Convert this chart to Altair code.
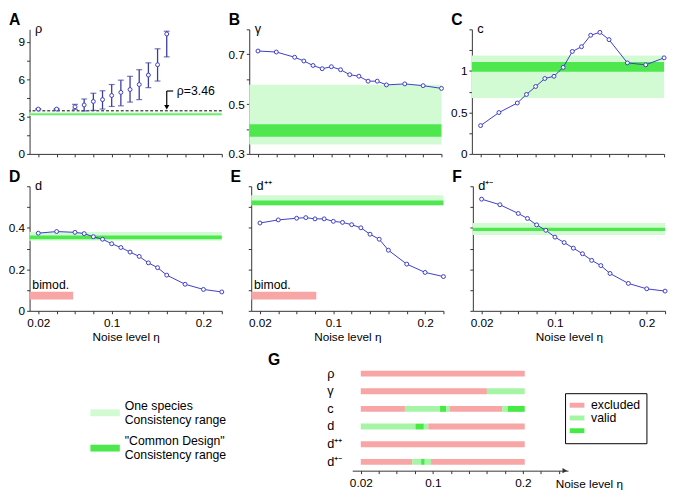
import altair as alt
import pandas as pd

# ---------------- data ----------------
eta = [0.02, 0.04, 0.06, 0.07, 0.08, 0.09, 0.10, 0.11, 0.12, 0.13, 0.14, 0.15, 0.16, 0.18, 0.20, 0.22]

rho_eta = [0.02, 0.04, 0.06, 0.07, 0.08, 0.09, 0.10, 0.11, 0.12, 0.13, 0.14, 0.15, 0.16]
rho_mean = [3.6, 3.6, 3.78, 3.93, 4.21, 4.36, 4.69, 4.94, 5.17, 5.57, 6.33, 7.16, 9.63]
rho_lo = [3.56, 3.56, 3.58, 3.45, 3.5, 3.6, 3.81, 3.86, 4.16, 4.36, 5.32, 5.85, 7.79]
rho_hi = [3.64, 3.64, 3.98, 4.41, 4.87, 5.07, 5.57, 5.92, 6.23, 6.76, 7.31, 8.44, 9.85]
rho_ref = 3.46
rho_ref_label = "ρ=3.46"
arrow_eta = [0.16, 0.167]
arrow_y = [5.05, 3.75]
arrow_text_eta = 0.171

gamma_vals = [0.713, 0.709, 0.688, 0.673, 0.655, 0.642, 0.650, 0.638, 0.618, 0.612, 0.592, 0.592, 0.577, 0.581, 0.574, 0.563]
c_vals = [0.341, 0.498, 0.613, 0.716, 0.812, 0.908, 0.935, 1.042, 1.234, 1.291, 1.429, 1.464, 1.376, 1.096, 1.073, 1.157]
d_vals = [0.374, 0.382, 0.378, 0.372, 0.357, 0.345, 0.323, 0.305, 0.283, 0.262, 0.231, 0.208, 0.172, 0.128, 0.103, 0.091]
dpp_vals = [0.423, 0.438, 0.446, 0.449, 0.443, 0.443, 0.431, 0.426, 0.415, 0.400, 0.369, 0.345, 0.292, 0.225, 0.185, 0.165]
dpm_vals = [0.538, 0.511, 0.469, 0.445, 0.414, 0.388, 0.355, 0.329, 0.302, 0.275, 0.243, 0.218, 0.180, 0.132, 0.106, 0.095]

# consistency ranges: [one-species low, high, common-design low, high]
rho_range = [3.05, 3.33, 3.15, 3.25]
gamma_range = [0.338, 0.578, 0.369, 0.419]
c_range = [0.674, 1.184, 0.989, 1.107]
d_range = [0.338, 0.380, 0.345, 0.363]
dpp_range = [0.508, 0.557, 0.508, 0.531]
dpm_range = [0.365, 0.423, 0.385, 0.400]

# bimodality ranges: [eta start, eta end, low, high]
bimod_d = [0.0105, 0.058, 0.055, 0.092]
bimod_dpp = [0.0105, 0.0814, 0.055, 0.092]
bimod_text = "bimod."

# panel G segments
g_params = ["ρ", "γ", "c", "d", "d⁺⁺", "d⁺⁻"]
g_seg_param = ["ρ", "γ", "γ", "c", "c", "c", "c", "c", "c", "c",
               "d", "d", "d", "d", "d⁺⁺", "d⁺⁻", "d⁺⁻", "d⁺⁻", "d⁺⁻", "d⁺⁻"]
g_seg_start = [0.02, 0.02, 0.16, 0.02, 0.069, 0.108, 0.115, 0.119, 0.177, 0.183,
               0.02, 0.0807, 0.09, 0.095, 0.02, 0.02, 0.077, 0.087, 0.091, 0.098]
g_seg_end = [0.202, 0.16, 0.202, 0.069, 0.108, 0.115, 0.119, 0.177, 0.183, 0.202,
             0.0807, 0.09, 0.095, 0.202, 0.202, 0.077, 0.087, 0.091, 0.098, 0.202]
g_seg_status = ["excluded", "excluded", "valid", "excluded", "valid", "valid (common)", "valid",
                "excluded", "valid", "valid (common)",
                "valid", "valid (common)", "valid", "excluded", "excluded",
                "excluded", "valid", "valid (common)", "valid", "excluded"]
g_arrow_eta = [0.2465]

xticks = [0.02, 0.04, 0.06, 0.08, 0.1, 0.12, 0.14, 0.16, 0.18, 0.2, 0.22]
g_xticks = [0.02, 0.04, 0.06, 0.08, 0.1, 0.12, 0.14, 0.16, 0.18, 0.2, 0.22, 0.24]
x_labels = {0.02: "0.02", 0.1: "0.1", 0.2: "0.2"}

# ---------------- styles ----------------
FONT = "Liberation Sans"
LINE_BLUE = "#3c3cc8"
ERR_BLUE = "#3a3aa0"
LIGHT_BAND = "#d3fbd3"
DARK_BAND = "#4ee84e"
EXCL_RED = "#f8a5a5"
VALID_LIGHT = "#a6f5a6"
VALID_DARK = "#45ea45"

W, H = 196, 127
GW, GH = 220, 108
XDOM = [0.0105, 0.22]
GXDOM = [0.0105, 0.25]

LIGHT_LBL = "One species|Consistency range"
DARK_LBL = '"Common Design"|Consistency range'
band_scale = alt.Scale(domain=[LIGHT_LBL, DARK_LBL], range=[LIGHT_BAND, DARK_BAND])


def lab_expr(m):
    s = "''"
    for v, t in reversed(list(m.items())):
        s = f"datum.value == {v} ? '{t}' : {s}"
    return s


def xenc(field, bottom):
    if bottom:
        axis = alt.Axis(values=xticks, labelExpr=lab_expr(x_labels), title="Noise level η",
                        labelFlush=False, labelOverlap=False, labelPadding=4, titlePadding=3)
    else:
        axis = alt.Axis(values=xticks, labels=False, title=None)
    return alt.X(f"{field}:Q", scale=alt.Scale(domain=XDOM, nice=False, zero=False), axis=axis)


def yenc(field, dom, ticks, labmap, title):
    kw = dict(values=ticks, title=title, titleAngle=0, titleX=5, titleY=3, titleAlign="left",
              titleBaseline="alphabetic", titleFontSize=13, labelPadding=2, labelOverlap=False,
              labelFlush=False)
    if labmap:
        kw["labelExpr"] = lab_expr(labmap)
    else:
        kw["labels"] = False
    return alt.Y(f"{field}:Q", scale=alt.Scale(domain=dom, nice=False, zero=False), axis=alt.Axis(**kw))


def ptitle(letter, dx=-21, offset=-6):
    return alt.TitleParams(letter, anchor="start", dx=dx, fontSize=16, fontWeight="bold",
                           offset=offset, frame="group", font=FONT)


def panel(letter, ylab, dom, ticks, labmap, rng, vals, bottom, extra=()):
    band_df = pd.DataFrame({"kind": [LIGHT_LBL, DARK_LBL], "lo": [rng[0], rng[2]], "hi": [rng[1], rng[3]]})
    bands = alt.Chart(band_df).mark_rect().encode(
        y=yenc("lo", dom, ticks, labmap, ylab), y2="hi",
        color=alt.Color("kind:N", scale=band_scale, legend=None))
    df = pd.DataFrame({"eta": eta, "val": vals})
    line = alt.Chart(df).mark_line(color=LINE_BLUE, strokeWidth=1).encode(
        x=xenc("eta", bottom), y=yenc("val", dom, ticks, labmap, ylab))
    pts = alt.Chart(df).mark_point(shape="circle", filled=True, fill="white", stroke=LINE_BLUE,
                                   strokeWidth=1, size=16, opacity=1).encode(
        x=xenc("eta", bottom), y=yenc("val", dom, ticks, labmap, ylab))
    layers = [bands] + list(extra) + [line, pts]
    return alt.layer(*layers).properties(width=W, height=H, title=ptitle(letter))


def bimod_layers(b, dom, ticks, labmap, ylab):
    bdf = pd.DataFrame({"x0": [b[0]], "x1": [b[1]], "lo": [b[2]], "hi": [b[3]], "t": [bimod_text],
                        "tx": [b[0] + 0.003], "ty": [b[3] + 0.012]})
    rect = alt.Chart(bdf).mark_rect(color=EXCL_RED).encode(
        x=xenc("x0", True), x2="x1", y=yenc("lo", dom, ticks, labmap, ylab), y2="hi")
    txt = alt.Chart(bdf).mark_text(align="left", baseline="alphabetic", fontSize=12.5, font=FONT,
                                   color="black").encode(
        x=xenc("tx", True), y=yenc("ty", dom, ticks, labmap, ylab), text="t:N")
    return [rect, txt]


# ----- panel A -----
A_dom, A_ticks, A_lab = [0, 10], [0, 1.5, 3, 4.5, 6, 7.5, 9], {0: "0", 3: "3", 6: "6", 9: "9"}
adf = pd.DataFrame({"eta": rho_eta, "m": rho_mean, "lo": rho_lo, "hi": rho_hi})
a_bands_df = pd.DataFrame({"kind": [LIGHT_LBL, DARK_LBL], "lo": [rho_range[0], rho_range[2]],
                           "hi": [rho_range[1], rho_range[3]]})
a_bands = alt.Chart(a_bands_df).mark_rect().encode(
    y=yenc("lo", A_dom, A_ticks, A_lab, "ρ"), y2="hi",
    color=alt.Color("kind:N", scale=band_scale, legend=None))
a_ref = alt.Chart(pd.DataFrame({"r": [rho_ref]})).mark_rule(color="black", strokeDash=[3, 2],
                                                             strokeWidth=1).encode(
    y=yenc("r", A_dom, A_ticks, A_lab, "ρ"))
a_err = alt.Chart(adf).mark_rule(color=ERR_BLUE, strokeWidth=1.3).encode(
    x=xenc("eta", False), y=yenc("lo", A_dom, A_ticks, A_lab, "ρ"), y2="hi")
a_cap_lo = alt.Chart(adf).mark_tick(color=ERR_BLUE, orient="horizontal", size=6, thickness=1.2).encode(
    x=xenc("eta", False), y=yenc("lo", A_dom, A_ticks, A_lab, "ρ"))
a_cap_hi = alt.Chart(adf).mark_tick(color=ERR_BLUE, orient="horizontal", size=6, thickness=1.2).encode(
    x=xenc("eta", False), y=yenc("hi", A_dom, A_ticks, A_lab, "ρ"))
a_pts = alt.Chart(adf).mark_point(shape="circle", filled=True, fill="white", stroke=LINE_BLUE,
                                  strokeWidth=1, size=16, opacity=1).encode(
    x=xenc("eta", False), y=yenc("m", A_dom, A_ticks, A_lab, "ρ"))
arr_df = pd.DataFrame({"x0": [arrow_eta[0]], "x1": [arrow_eta[1]], "y0": [arrow_y[0]], "y1": [arrow_y[1]],
                       "tx": [arrow_text_eta], "t": [rho_ref_label]})
a_arr_v = alt.Chart(arr_df).mark_rule(color="black", strokeWidth=1.2).encode(
    x=xenc("x0", False), y=yenc("y0", A_dom, A_ticks, A_lab, "ρ"), y2="y1")
a_arr_h = alt.Chart(arr_df).mark_rule(color="black", strokeWidth=1.2).encode(
    x=xenc("x0", False), x2="x1", y=yenc("y0", A_dom, A_ticks, A_lab, "ρ"))
a_arr_head = alt.Chart(arr_df).mark_point(shape="triangle-down", filled=True, color="black", size=28,
                                          opacity=1).encode(
    x=xenc("x0", False), y=yenc("y1", A_dom, A_ticks, A_lab, "ρ"))
a_arr_txt = alt.Chart(arr_df).mark_text(align="left", baseline="middle", fontSize=12.5, font=FONT,
                                        color="black").encode(
    x=xenc("tx", False), y=yenc("y0", A_dom, A_ticks, A_lab, "ρ"), text="t:N")
panelA = alt.layer(a_bands, a_ref, a_err, a_cap_lo, a_cap_hi, a_pts, a_arr_v, a_arr_h, a_arr_head,
                   a_arr_txt).properties(width=W, height=H, title=ptitle("A"))

panelB = panel("B", "γ", [0.3, 0.8], [0.3, 0.4, 0.5, 0.6, 0.7, 0.8], {0.3: "0.3", 0.5: "0.5", 0.7: "0.7"},
               gamma_range, gamma_vals, False)
panelC = panel("C", "c", [0, 1.5], [0, 0.25, 0.5, 0.75, 1, 1.25, 1.5], {0: "0", 0.5: "0.5", 1: "1"},
               c_range, c_vals, False)

D_dom, D_ticks = [0, 0.6], [0, 0.1, 0.2, 0.3, 0.4, 0.5, 0.6]
D_lab = {0: "0", 0.2: "0.2", 0.4: "0.4"}
panelD = panel("D", "d", D_dom, D_ticks, D_lab, d_range, d_vals, True,
               extra=bimod_layers(bimod_d, D_dom, D_ticks, D_lab, "d"))
panelE = panel("E", "d⁺⁺", D_dom, D_ticks, None, dpp_range, dpp_vals, True,
               extra=bimod_layers(bimod_dpp, D_dom, D_ticks, None, "d⁺⁺"))
panelF = panel("F", "d⁺⁻", D_dom, D_ticks, None, dpm_range, dpm_vals, True)

# ----- consistency legend host -----
legend1 = alt.Legend(orient="none", legendX=62, legendY=27, title=None,
                     symbolType="M-1,0.233H1V0.7H-1Z", symbolSize=900, symbolStrokeWidth=0,
                     symbolOpacity=1, labelExpr="split(datum.label, '|')", labelFontSize=12.5,
                     labelFont=FONT, rowPadding=-3, labelOffset=5, labelLimit=0)
spacer = alt.Chart(pd.DataFrame({"kind": [LIGHT_LBL, DARK_LBL]})).mark_rect(opacity=0).encode(
    color=alt.Color("kind:N", scale=band_scale, legend=legend1)).properties(width=238, height=GH)

# ----- panel G -----
gdf = pd.DataFrame({"param": g_seg_param, "start": g_seg_start, "end": g_seg_end, "status": g_seg_status})
g_axis = alt.Axis(values=g_xticks, labelExpr=lab_expr(x_labels), labelFlush=False,
                  labelOverlap=False, labelPadding=4, title="Noise level η", titleX=207,
                  titleY=13, titleAlign="left", titleAnchor="start", titleBaseline="middle")
g_scale = alt.Scale(domain=GXDOM, nice=False, zero=False)
legend2 = alt.Legend(orient="none", legendX=217, legendY=29, title=None,
                     symbolType="M-1.5,-0.5H1.5V0.5H-1.5Z", symbolSize=100, symbolStrokeWidth=0,
                     symbolOpacity=1, labelExpr="datum.label == 'valid (common)' ? '' : datum.label",
                     strokeColor="black", fillColor="white", padding=6, rowPadding=0,
                     labelFontSize=12.5, labelFont=FONT, labelOffset=8)
g_bars = alt.Chart(gdf).mark_bar(size=6).encode(
    x=alt.X("start:Q", scale=g_scale, axis=g_axis), x2="end",
    y=alt.Y("param:N", sort=g_params, scale=alt.Scale(domain=g_params),
            axis=alt.Axis(title=None, domain=False, ticks=False, tickSize=0, labelAlign="left",
                          labelPadding=26, labelFontSize=13)),
    color=alt.Color("status:N", scale=alt.Scale(domain=["excluded", "valid", "valid (common)"],
                                                range=[EXCL_RED, VALID_LIGHT, VALID_DARK]),
                    legend=legend2))
g_arrow = alt.Chart(pd.DataFrame({"ax": g_arrow_eta})).mark_point(
    shape="triangle-right", filled=True, color="#333", size=30, opacity=1).encode(
    x=alt.X("ax:Q", scale=g_scale, axis=g_axis), y=alt.value(GH))
panelG = alt.layer(g_bars, g_arrow).properties(width=GW, height=GH, title=ptitle("G", dx=-86, offset=-3))

row1 = alt.hconcat(panelA, panelB, panelC, spacing=5).resolve_scale(color="independent")
row2 = alt.hconcat(panelD, panelE, panelF, spacing=5).resolve_scale(color="independent")
row3 = alt.hconcat(spacer, panelG, spacing=5).resolve_scale(color="independent")

chart = alt.vconcat(row1, row2, row3, spacing=10).resolve_scale(color="independent").properties(
    padding=0
).configure_view(stroke=None).configure_axis(
    domainColor="#333", tickColor="#333", tickSize=3, labelFont=FONT, titleFont=FONT, labelFontSize=12,
    titleFontSize=12, labelColor="black", titleColor="black", grid=False, titleFontWeight="normal"
).configure_legend(labelFont=FONT, labelColor="black")

chart.save("out.html", embed_options={"renderer": "svg", "actions": False})
